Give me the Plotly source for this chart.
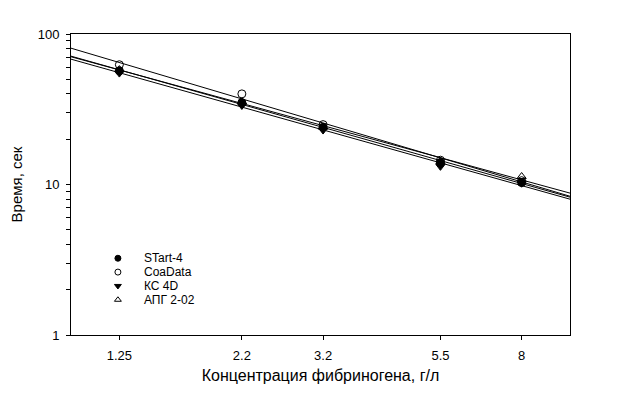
import numpy as np
import plotly.graph_objects as go

conc = [1.25, 2.2, 3.2, 5.5, 8]
tick_labels = ["1.25", "2.2", "3.2", "5.5", "8"]

start4 = [57, 35, 24, 14, 10.3]
coadata = [62.5, 40, 25, 14.5, 10.6]
kc4d = [55, 33.5, 23, 13.2, 10.2]
apg = [58, 35.5, 24, 14.2, 11.3]

series_names = ["STart-4", "CoaData", "КС 4D", "АПГ 2-02"]
series_vals = [start4, coadata, kc4d, apg]
symbols = ["circle", "circle-open", "triangle-down", "triangle-up-open"]

x_range = [1, 10]

fig = go.Figure()

# regression lines (log-log)
for vals in series_vals:
    k, b = np.polyfit(np.log10(conc), np.log10(vals), 1)
    xs = np.array(x_range, dtype=float)
    ys = 10 ** (b + k * np.log10(xs))
    fig.add_trace(go.Scatter(x=xs, y=ys, mode="lines",
                             line=dict(color="black", width=1),
                             showlegend=False, hoverinfo="skip"))

for name, vals, sym in zip(series_names, series_vals, symbols):
    fig.add_trace(go.Scatter(x=conc, y=vals, mode="markers", name=name,
                             showlegend=False,
                             marker=dict(symbol=sym, size=8, color="black",
                                         line=dict(color="black", width=1))))

# manual legend (overlay axes in plot-fraction units)
leg_x_marker = 0.094
leg_x_text = 0.143
leg_y0 = 0.255
leg_step = 0.046
for i, (name, sym) in enumerate(zip(series_names, symbols)):
    yy = leg_y0 - i * leg_step
    fig.add_trace(go.Scatter(x=[leg_x_marker], y=[yy], mode="markers",
                             xaxis="x2", yaxis="y2", showlegend=False,
                             hoverinfo="skip",
                             marker=dict(symbol=sym, size=6, color="black",
                                         line=dict(color="black", width=1))))
    fig.add_annotation(x=leg_x_text, y=yy, xref="x2", yref="y2", text=name,
                       showarrow=False, xanchor="left", yanchor="middle",
                       font=dict(size=12))

fig.update_layout(
    width=611, height=391,
    margin=dict(l=63, r=49, t=26, b=64),
    paper_bgcolor="white", plot_bgcolor="white",
    font=dict(family="Liberation Sans, Arial, sans-serif", size=13, color="black"),
    showlegend=False,
    xaxis2=dict(overlaying="x", range=[0, 1], visible=False, fixedrange=True),
    yaxis2=dict(overlaying="y", range=[0, 1], visible=False, fixedrange=True),
)

fig.update_layout(xaxis=dict(
    type="log", range=[0, 1], automargin=False,
    tickvals=conc, ticktext=tick_labels,
    ticks="outside", ticklen=4, tickwidth=1, tickcolor="black",
    ticklabelstandoff=4,
    showline=True, linecolor="black", linewidth=1, mirror=True,
    showgrid=False, zeroline=False,
    tickfont=dict(size=13),
    title=dict(text="Концентрация фибриногена, г/л", font=dict(size=16), standoff=8),
))

fig.update_layout(yaxis=dict(
    type="log", range=[0, 2], automargin=False,
    tickvals=[1, 10, 100], ticktext=["1", "10", "100"],
    ticks="outside", ticklen=4, tickwidth=1, tickcolor="black",
    ticklabelstandoff=4,
    minor=dict(tickvals=[2, 3, 4, 5, 6, 7, 8, 9, 20, 30, 40, 50, 60, 70, 80, 90],
               ticks="outside", ticklen=4, tickwidth=1, tickcolor="black", showgrid=False),
    showline=True, linecolor="black", linewidth=1, mirror=True,
    showgrid=False, zeroline=False,
    tickfont=dict(size=13),
    title=dict(text="Время, сек", font=dict(size=15), standoff=40),
))

fig.write_html("out.html")
